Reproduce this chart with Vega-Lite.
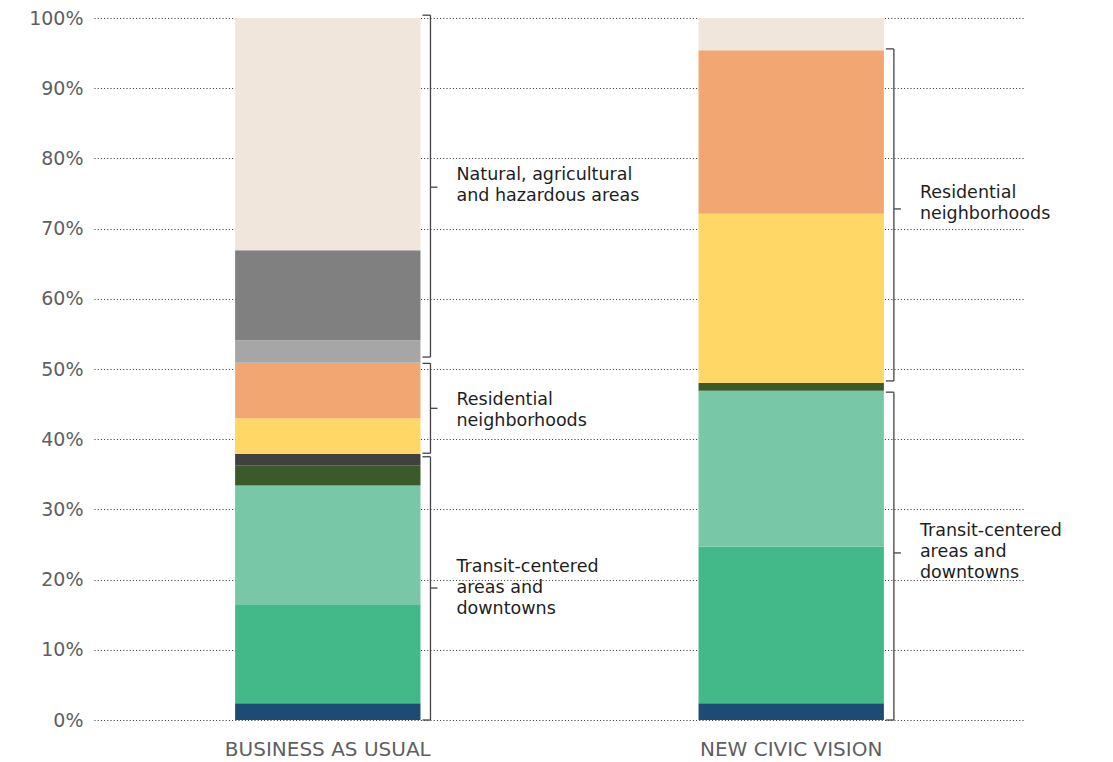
{
  "$schema": "https://vega.github.io/schema/vega-lite/v6.json",
  "width": 931,
  "height": 702,
  "autosize": {"type": "none"},
  "padding": {"left": 94, "top": 18, "right": 88, "bottom": 42},
  "background": "white",
  "config": {
    "view": {"stroke": null},
    "font": "DejaVu Sans",
    "axis": {"labelFont": "DejaVu Sans"}
  },
  "datasets": {
    "bars": [
      {"scenario": "BUSINESS AS USUAL", "category": "Transit blue", "order": 1, "value": 2.4},
      {"scenario": "BUSINESS AS USUAL", "category": "Transit green", "order": 2, "value": 14.1},
      {"scenario": "BUSINESS AS USUAL", "category": "Transit light green", "order": 3, "value": 16.9},
      {"scenario": "BUSINESS AS USUAL", "category": "Transit dark green", "order": 4, "value": 2.9},
      {"scenario": "BUSINESS AS USUAL", "category": "Transit dark gray", "order": 5, "value": 1.6},
      {"scenario": "BUSINESS AS USUAL", "category": "Residential yellow", "order": 6, "value": 5.1},
      {"scenario": "BUSINESS AS USUAL", "category": "Residential orange", "order": 7, "value": 7.9},
      {"scenario": "BUSINESS AS USUAL", "category": "Natural light gray", "order": 8, "value": 3.2},
      {"scenario": "BUSINESS AS USUAL", "category": "Natural gray", "order": 9, "value": 12.8},
      {"scenario": "BUSINESS AS USUAL", "category": "Natural beige", "order": 10, "value": 33.1},
      {"scenario": "NEW CIVIC VISION", "category": "Transit blue", "order": 1, "value": 2.4},
      {"scenario": "NEW CIVIC VISION", "category": "Transit green", "order": 2, "value": 22.3},
      {"scenario": "NEW CIVIC VISION", "category": "Transit light green", "order": 3, "value": 22.2},
      {"scenario": "NEW CIVIC VISION", "category": "Transit dark green", "order": 4, "value": 1.1},
      {"scenario": "NEW CIVIC VISION", "category": "Residential yellow", "order": 6, "value": 24.1},
      {"scenario": "NEW CIVIC VISION", "category": "Residential orange", "order": 7, "value": 23.3},
      {"scenario": "NEW CIVIC VISION", "category": "Natural beige", "order": 10, "value": 4.6}
    ],
    "groups": [
      {"scenario": "BUSINESS AS USUAL", "label": "Natural, agricultural\nand hazardous areas", "top": 100.4, "bottom": 51.7, "mid": 75.9, "labelY": 77.6},
      {"scenario": "BUSINESS AS USUAL", "label": "Residential\nneighborhoods", "top": 50.8, "bottom": 38.0, "mid": 44.4, "labelY": 45.6},
      {"scenario": "BUSINESS AS USUAL", "label": "Transit-centered\nareas and\ndowntowns", "top": 37.5, "bottom": 0, "mid": 18.8, "labelY": 21.8},
      {"scenario": "NEW CIVIC VISION", "label": "Residential\nneighborhoods", "top": 95.6, "bottom": 48.3, "mid": 72.8, "labelY": 75.1},
      {"scenario": "NEW CIVIC VISION", "label": "Transit-centered\nareas and\ndowntowns", "top": 46.7, "bottom": 0, "mid": 23.8, "labelY": 26.9}
    ]
  },
  "layer": [
    {
      "data": {"name": "bars"},
      "mark": {"type": "bar"},
      "encoding": {
        "x": {
          "field": "scenario",
          "type": "nominal",
          "sort": null,
          "scale": {"domain": ["BUSINESS AS USUAL", "NEW CIVIC VISION"], "paddingInner": 0.6, "paddingOuter": 0.3045},
          "axis": {
            "title": null,
            "labelAngle": 0,
            "ticks": false,
            "domain": false,
            "labelFontSize": 20,
            "labelColor": "#5f5f5f",
            "labelPadding": 19,
            "labelLimit": 500
          }
        },
        "y": {
          "field": "value",
          "type": "quantitative",
          "aggregate": "sum",
          "stack": "zero",
          "scale": {"domain": [0, 100], "nice": false},
          "axis": {
            "title": null,
            "values": [0, 10, 20, 30, 40, 50, 60, 70, 80, 90, 100],
            "labelExpr": "datum.value + '%'",
            "ticks": false,
            "domain": false,
            "labelFontSize": 19,
            "labelColor": "#5f5f5f",
            "labelPadding": 11,
            "grid": true,
            "gridColor": "#333333",
            "gridDash": [1, 2.2],
            "gridWidth": 1.2
          }
        },
        "order": {"field": "order", "type": "quantitative"},
        "color": {
          "field": "category",
          "type": "nominal",
          "legend": null,
          "scale": {
            "domain": ["Transit blue", "Transit green", "Transit light green", "Transit dark green", "Transit dark gray", "Residential yellow", "Residential orange", "Natural light gray", "Natural gray", "Natural beige"],
            "range": ["#1e4b75", "#43b98a", "#78c8a7", "#3a5a2a", "#404040", "#fed767", "#f2a772", "#a6a6a6", "#808080", "#f1e6db"]
          }
        }
      }
    },
    {
      "data": {"name": "groups"},
      "mark": {"type": "rule", "color": "#444444", "strokeWidth": 1.3, "xOffset": 10},
      "encoding": {
        "x": {"field": "scenario", "type": "nominal", "bandPosition": 1},
        "y": {"field": "top", "type": "quantitative"},
        "y2": {"field": "bottom"}
      }
    },
    {
      "data": {"name": "groups"},
      "mark": {"type": "rule", "color": "#444444", "strokeWidth": 1.3, "xOffset": 2, "x2Offset": 10},
      "encoding": {
        "x": {"field": "scenario", "type": "nominal", "bandPosition": 1},
        "x2": {"field": "scenario", "bandPosition": 1},
        "y": {"field": "top", "type": "quantitative"}
      }
    },
    {
      "data": {"name": "groups"},
      "mark": {"type": "rule", "color": "#444444", "strokeWidth": 1.3, "xOffset": 2, "x2Offset": 10},
      "encoding": {
        "x": {"field": "scenario", "type": "nominal", "bandPosition": 1},
        "x2": {"field": "scenario", "bandPosition": 1},
        "y": {"field": "bottom", "type": "quantitative"}
      }
    },
    {
      "data": {"name": "groups"},
      "mark": {"type": "rule", "color": "#444444", "strokeWidth": 1.3, "xOffset": 10, "x2Offset": 17},
      "encoding": {
        "x": {"field": "scenario", "type": "nominal", "bandPosition": 1},
        "x2": {"field": "scenario", "bandPosition": 1},
        "y": {"field": "mid", "type": "quantitative"}
      }
    },
    {
      "data": {"name": "groups"},
      "mark": {"type": "text", "align": "left", "baseline": "middle", "dx": 36, "fontSize": 17.5, "lineHeight": 21, "color": "#1e1e1e", "lineBreak": "\n"},
      "encoding": {
        "x": {"field": "scenario", "type": "nominal", "bandPosition": 1},
        "y": {"field": "labelY", "type": "quantitative"},
        "text": {"field": "label"}
      }
    }
  ]
}
